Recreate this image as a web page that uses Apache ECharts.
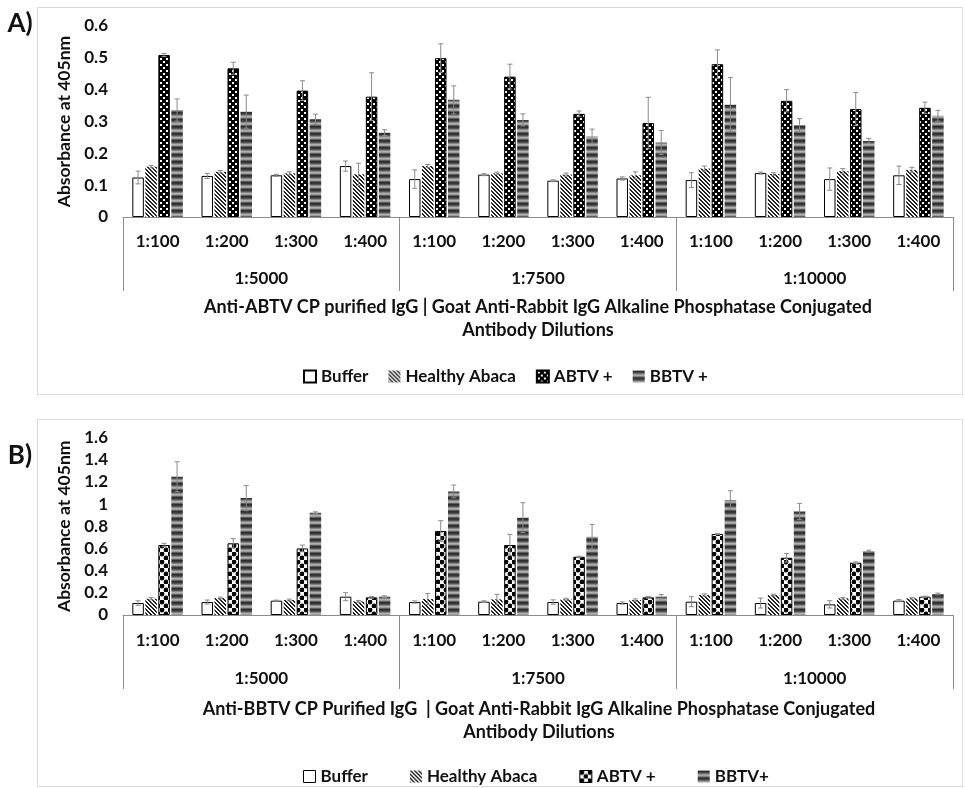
<!DOCTYPE html>
<html>
<head>
<meta charset="utf-8">
<script src="https://cdn.jsdelivr.net/npm/echarts@6/dist/echarts.min.js"></script>
<style>
html,body{margin:0;padding:0;background:#fff}
#chart{width:965px;height:788px}
</style>
</head>
<body>
<div id="chart"></div>
<script>
// category labels (primary dilution, grouped by conjugate dilution)
var conjugates = ['1:5000', '1:7500', '1:10000'];
var categories = ['1:100', '1:200', '1:300', '1:400', '1:100', '1:200', '1:300', '1:400', '1:100', '1:200', '1:300', '1:400'];

// panel A - Anti-ABTV
var bufferA  = [0.124, 0.129, 0.131, 0.160, 0.119, 0.133, 0.114, 0.121, 0.116, 0.138, 0.119, 0.131];
var healthyA = [0.158, 0.142, 0.137, 0.134, 0.160, 0.137, 0.133, 0.131, 0.152, 0.135, 0.144, 0.148];
var abtvA    = [0.509, 0.467, 0.397, 0.378, 0.499, 0.441, 0.324, 0.295, 0.480, 0.365, 0.339, 0.343];
var bbtvA    = [0.336, 0.331, 0.307, 0.265, 0.368, 0.305, 0.253, 0.234, 0.353, 0.288, 0.239, 0.318];
var bufferErrA  = [0.020, 0.008, 0.003, 0.016, 0.029, 0.003, 0.003, 0.005, 0.023, 0.003, 0.035, 0.029];
var healthyErrA = [0.004, 0.004, 0.005, 0.035, 0.005, 0.004, 0.005, 0.011, 0.008, 0.004, 0.008, 0.008];
var abtvErrA    = [0.005, 0.019, 0.031, 0.075, 0.045, 0.039, 0.009, 0.081, 0.045, 0.035, 0.052, 0.018];
var bbtvErrA    = [0.035, 0.052, 0.016, 0.009, 0.044, 0.019, 0.023, 0.038, 0.085, 0.021, 0.008, 0.017];

// panel B - Anti-BBTV
var bufferB  = [0.108, 0.117, 0.129, 0.165, 0.117, 0.120, 0.117, 0.108, 0.120, 0.108, 0.096, 0.129];
var healthyB = [0.147, 0.153, 0.135, 0.123, 0.144, 0.141, 0.141, 0.135, 0.180, 0.180, 0.150, 0.150];
var abtvB    = [0.631, 0.646, 0.600, 0.159, 0.757, 0.631, 0.525, 0.159, 0.730, 0.516, 0.471, 0.165];
var bbtvB    = [1.246, 1.054, 0.922, 0.165, 1.114, 0.877, 0.706, 0.165, 1.036, 0.934, 0.576, 0.189];
var bufferErrB  = [0.020, 0.018, 0.005, 0.036, 0.010, 0.008, 0.020, 0.010, 0.045, 0.045, 0.033, 0.010];
var healthyErrB = [0.010, 0.008, 0.008, 0.008, 0.050, 0.045, 0.010, 0.010, 0.010, 0.008, 0.008, 0.008];
var abtvErrB    = [0.015, 0.042, 0.030, 0.008, 0.093, 0.096, 0.005, 0.008, 0.005, 0.039, 0.008, 0.005];
var bbtvErrB    = [0.135, 0.114, 0.008, 0.008, 0.057, 0.135, 0.111, 0.020, 0.084, 0.072, 0.008, 0.008];

var namesA = ['Buffer', 'Healthy Abaca', 'ABTV +', 'BBTV +'];
var namesB = ['Buffer', 'Healthy Abaca', 'ABTV +', 'BBTV+'];

var FONT = 'Lato';
var TXT = '#111';
var AXIS_COLOR = '#8c8c8c';
var ERR_COLOR = '#8a8a8a';
var BAR_W = 11.5;
var BAR_GAP = 0.13;

// ---- fill patterns ----
function tile(w, h, draw) {
    var c = document.createElement('canvas');
    c.width = w; c.height = h;
    draw(c.getContext('2d'));
    return { image: c, repeat: 'repeat' };
}
var hatch = tile(4, 4, function (g) {
    g.fillStyle = '#fff'; g.fillRect(0, 0, 4, 4);
    g.fillStyle = '#222';
    for (var i = 0; i < 4; i++) { g.fillRect(i, i, 1, 1); g.fillRect((i + 1) % 4, i, 1, 1); }
});
var checkA = tile(6, 6, function (g) {
    g.fillStyle = '#000'; g.fillRect(0, 0, 6, 6);
    g.fillStyle = '#fff'; g.fillRect(1, 1, 2, 2); g.fillRect(4, 4, 2, 2);
});
var dotsB = tile(8, 8, function (g) {
    g.fillStyle = '#fff'; g.fillRect(0, 0, 8, 8);
    g.fillStyle = '#000';
    [[2, 2], [6, 6]].forEach(function (p) { g.beginPath(); g.arc(p[0], p[1], 2.4, 0, Math.PI * 2); g.fill(); });
});
var stripes = tile(2, 7, function (g) {
    var cols = ['#2e2e2e', '#383838', '#545454', '#858585', '#b0b0b0', '#9c9c9c', '#5e5e5e'];
    cols.forEach(function (c, i) { g.fillStyle = c; g.fillRect(0, i, 2, 1); });
});

function barStyles(abtvFill) {
    return [
        { color: '#fff', borderColor: '#000', borderWidth: 1 },
        { color: hatch },
        { color: abtvFill, borderColor: '#000', borderWidth: 1 },
        { color: stripes }
    ];
}

function errorBar(params, api) {
    var cat = api.value(0), val = api.value(1), err = api.value(2), k = api.value(3);
    var dx = (k - 1.5) * BAR_W * (1 + BAR_GAP);
    var top = api.coord([cat, val + err]);
    var bot = api.coord([cat, val - err]);
    var x = top[0] + dx, cap = 2.5;
    var st = { stroke: ERR_COLOR, lineWidth: 1 };
    return {
        type: 'group',
        children: [
            { type: 'line', shape: { x1: x, y1: top[1], x2: x, y2: bot[1] }, style: st },
            { type: 'line', shape: { x1: x - cap, y1: top[1], x2: x + cap, y2: top[1] }, style: st },
            { type: 'line', shape: { x1: x - cap, y1: bot[1], x2: x + cap, y2: bot[1] }, style: st }
        ]
    };
}

function buildSeries(gridIdx, names, values, errs, styles) {
    var out = [];
    var errData = [];
    values.forEach(function (vals, k) {
        out.push({
            name: names[k], type: 'bar',
            xAxisIndex: gridIdx * 2, yAxisIndex: gridIdx,
            barWidth: BAR_W, barGap: (BAR_GAP * 100) + '%',
            itemStyle: styles[k],
            data: vals
        });
        vals.forEach(function (v, i) { errData.push([i, v, errs[k][i], k]); });
    });
    out.push({
        type: 'custom', xAxisIndex: gridIdx * 2, yAxisIndex: gridIdx,
        renderItem: errorBar, encode: { x: 0, y: 1 }, z: 5, silent: true,
        data: errData
    });
    return out;
}

var numStyle = { color: TXT, fontFamily: FONT, fontWeight: 'bold', fontSize: 17 };

function xAxes(gridIdx, groupMargin, labelMargin) {
    return [{
        type: 'category', gridIndex: gridIdx, data: categories,
        axisLine: { lineStyle: { color: AXIS_COLOR, width: 1 } },
        axisTick: { show: false },
        axisLabel: Object.assign({ interval: 0, margin: labelMargin }, numStyle)
    }, {
        type: 'category', gridIndex: gridIdx, data: conjugates, position: 'bottom',
        axisLine: { show: false },
        axisTick: { show: true, length: 74, lineStyle: { color: AXIS_COLOR } },
        axisLabel: Object.assign({ interval: 0, margin: groupMargin }, numStyle)
    }];
}

function yAxis(gridIdx, max, interval) {
    return {
        type: 'value', gridIndex: gridIdx, min: 0, max: max, interval: interval,
        axisLine: { show: false }, axisTick: { show: false }, splitLine: { show: false },
        axisLabel: Object.assign({ margin: 15 }, numStyle),
        name: 'Absorbance at 405nm', nameLocation: 'middle', nameGap: 48, nameRotate: 90,
        nameTextStyle: { color: TXT, fontFamily: FONT, fontWeight: 'bold', fontSize: 17.5 }
    };
}

function text(x, y, s, size) {
    return { type: 'text', x: x, y: y, style: { text: s, x: 0, y: 0, align: 'center', verticalAlign: 'middle',
        fill: TXT, font: 'bold ' + (size || 18) + 'px ' + FONT } };
}

var legendText = { color: TXT, fontFamily: FONT, fontWeight: 'bold', fontSize: 17 };

var stylesA = barStyles(checkA);
var stylesB = barStyles(dotsB);

var chart = echarts.init(document.getElementById('chart'));
chart.setOption({
    animation: false,
    backgroundColor: '#fff',
    grid: [
        { left: 123, right: 12, top: 26, height: 191 },
        { left: 123, right: 12, top: 437.5, height: 177.5 }
    ],
    xAxis: xAxes(0, 53, 16).concat(xAxes(1, 55, 17)),
    yAxis: [yAxis(0, 0.6, 0.1), yAxis(1, 1.6, 0.2)],
    legend: [{
        left: 298, top: 363, itemGap: 20, itemWidth: 12, itemHeight: 12, icon: 'rect',
        textStyle: legendText, selectedMode: false,
        data: namesA
    }, {
        left: 298, top: 763, itemGap: 42, itemWidth: 12, itemHeight: 12, icon: 'rect',
        textStyle: legendText, selectedMode: false,
        data: namesB.map(function (n, k) { return { name: n, itemStyle: stylesB[k] }; })
    }],
    graphic: [
        { type: 'rect', shape: { x: 37.5, y: 7.5, width: 925, height: 387 }, style: { fill: 'none', stroke: '#d9d9d9', lineWidth: 1 }, silent: true },
        { type: 'rect', shape: { x: 37.5, y: 419.5, width: 925, height: 367 }, style: { fill: 'none', stroke: '#d9d9d9', lineWidth: 1 }, silent: true },
        text(20, 24, 'A)', 26),
        text(20, 456, 'B)', 26),
        text(538, 307, 'Anti-ABTV CP purified IgG | Goat Anti-Rabbit IgG Alkaline Phosphatase Conjugated'),
        text(538, 330, 'Antibody Dilutions'),
        text(539, 709, 'Anti-BBTV CP Purified IgG  | Goat Anti-Rabbit IgG Alkaline Phosphatase Conjugated'),
        text(539, 732, 'Antibody Dilutions')
    ],
    series: buildSeries(0, namesA, [bufferA, healthyA, abtvA, bbtvA],
            [bufferErrA, healthyErrA, abtvErrA, bbtvErrA], stylesA)
        .concat(buildSeries(1, namesB, [bufferB, healthyB, abtvB, bbtvB],
            [bufferErrB, healthyErrB, abtvErrB, bbtvErrB], stylesB))
});
</script>
</body>
</html>
